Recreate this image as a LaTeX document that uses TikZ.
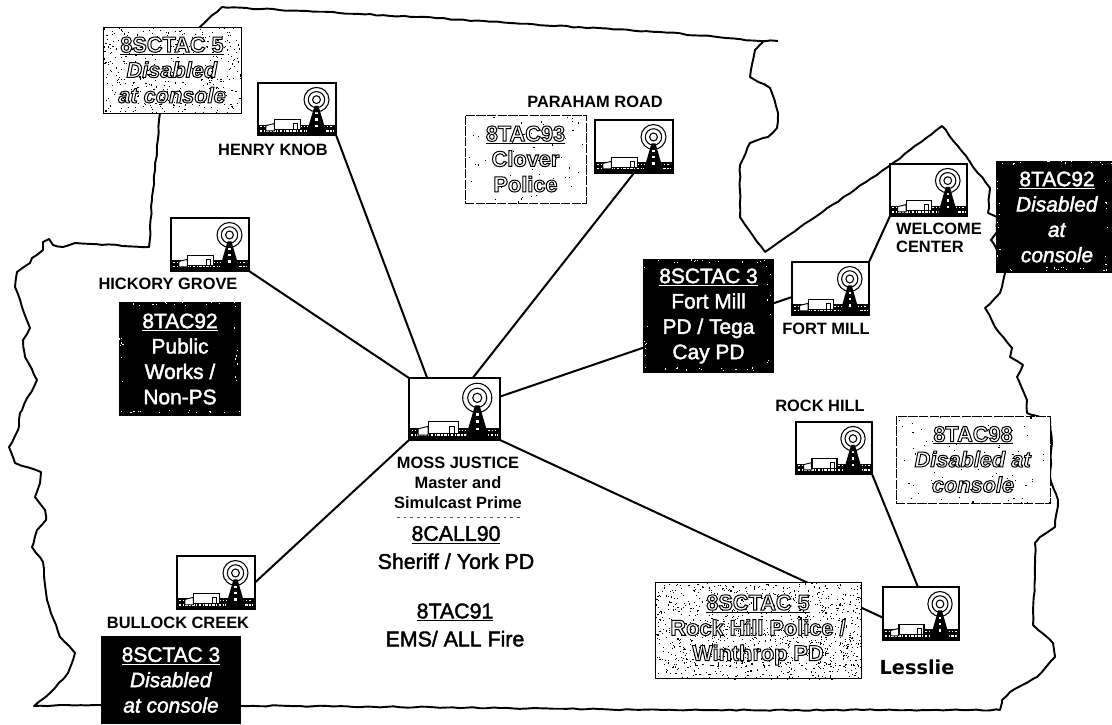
\documentclass[tikz,border=0pt]{standalone}
\usepackage{fontspec}
\setmainfont{Liberation Sans}
\newfontfamily\lesfont{DejaVu Sans}
\usetikzlibrary{calc,decorations.pathmorphing}
\newcommand\outl[1]{{\color{white}\special{pdf:code 0 G 2 Tr 0.75 w}#1\special{pdf:code 0 Tr}}}
\newcommand\heavy[1]{\special{pdf:code 2 Tr 0.3 w}#1\special{pdf:code 0 Tr}}
\newcommand\speckle[6]{% colour,x0,y0,x1,y1,n
  \foreach \ii in {1,...,#6}{%
    \pgfmathsetmacro\sx{#2+rnd*(#4-#2)}%
    \pgfmathsetmacro\sy{#3+rnd*(#5-#3)}%
    \fill[#1] (\sx,\sy) rectangle ++(1.1,1.1);}}
\newcommand\edgespeck[4]{% x0,y0,x1,y1 of a black box
  \speckle{white}{#1}{#2}{#3}{#2+3}{14}
  \speckle{white}{#1}{#4-3}{#3}{#4}{14}
  \speckle{white}{#1}{#2}{#1+4}{#4}{8}
  \speckle{white}{#3-4}{#2}{#3}{#4}{8}}
\newcommand\iconart[5]{% name, x0,y0, w,h
  \node[iconbox,sz={#4}{#5}] (#1) at (#2+#4/2,#3+#5/2) {};
  \begin{scope}[shift={(#2,#3)},xscale=#4,yscale=#5]
    \fill[black] (0.01,0.80) rectangle (0.99,0.98);
    \draw[white,line width=1.1pt,dash pattern=on 2pt off 1pt on 1pt off 1pt] (0.02,0.92) -- (0.98,0.92);
    \draw[white,line width=0.7pt,dash pattern=on 1pt off 1.5pt] (0.03,0.84) -- (0.97,0.84);
    \draw[black,fill=white,line width=0.7pt] (0.10,0.92) -- (0.10,0.82) -- (0.21,0.78) -- (0.21,0.92) -- cycle;
    \draw[black,fill=white,line width=0.9pt] (0.21,0.70) rectangle (0.54,0.90);
    \draw[black,fill=white,line width=0.7pt] (0.45,0.78) rectangle (0.50,0.90);
    \fill[black] (0.62,0.97) -- (0.725,0.44) -- (0.775,0.44) -- (0.88,0.97) -- cycle;
    \foreach \yy in {0.56,0.68,0.80}{\fill[white] (0.735,\yy) rectangle (0.765,\yy+0.045);}
    \draw[black,line width=0.8pt] (0.75,0.32) ellipse [x radius=0.16,y radius=0.235];
    \draw[black,line width=0.8pt] (0.75,0.32) ellipse [x radius=0.105,y radius=0.155];
    \draw[black,line width=0.8pt] (0.75,0.32) ellipse [x radius=0.05,y radius=0.075];
  \end{scope}}
\tikzset{
  x=0.75pt,y=-0.75pt,
  sz/.style 2 args={minimum width=#1*0.75pt,minimum height=#2*0.75pt},
  border/.style={line width=1.45pt,line join=round,decorate,decoration={random steps,segment length=5pt,amplitude=0.5pt}},
  link/.style={line width=1.5pt},
  iconbox/.style={draw=black,fill=white,line width=1.05pt,inner sep=0pt,outer sep=0pt},
  lab/.style={inner sep=0pt,font=\bfseries\fontsize{12.3}{14}\selectfont,text=black},
  blackbox/.style={fill=black,text=white,inner sep=0pt,outer sep=0pt,align=center,font=\fontsize{15.7}{19}\selectfont},
  speckbox/.style={draw=black,line width=0.7pt,inner sep=0pt,outer sep=0pt,align=center,font=\bfseries\fontsize{16.3}{19}\selectfont},
  plain/.style={inner sep=0pt,align=center,font=\fontsize{16}{19}\selectfont,text=black},
}
\begin{document}
\begin{tikzpicture}
\useasboundingbox (0,0) rectangle (1112,724);
\pgfmathsetseed{4711}
% county outline
\draw[border] (778,41) -- (760,41) -- (660,32) -- (510,23) -- (417,17) -- (360,14) -- (222,7) -- (200,27) -- (160,113) -- (157,150) -- (152,200) -- (149,247)
 -- (75,243) -- (63,247) -- (53,245) -- (49,239) -- (43,242) -- (43,250) -- (32,258) -- (30,263) -- (17,272) -- (15,287) -- (22,307) -- (30,328) -- (23,340) -- (25,357) -- (37,380) -- (20,413) -- (18,430) -- (9,447) -- (15,463) -- (41,472) -- (40,483) -- (35,497) -- (45,510) -- (46,520) -- (37,530) -- (32,547) -- (43,562) -- (47,600) -- (60,637) -- (75,653) -- (68,673) -- (50,693) -- (34,706)
 -- (100,705) -- (300,706) -- (500,708) -- (663,710) -- (1000,710) -- (1002,700) -- (1010,692) -- (1037,677) -- (1055,657) -- (1053,643) -- (1033,625) -- (1035,577) -- (1035,543) -- (1040,537) -- (1055,527) -- (1058,500) -- (1050,477) -- (1052,443) -- (1050,420) -- (1027,413) -- (1027,400) -- (1017,377) -- (1023,365) -- (1010,357) -- (1012,348) -- (995,327) -- (985,308) -- (1000,293) -- (1005,273)
 -- (997,250) -- (991,240) -- (997,232) -- (997,217) -- (988,213) -- (990,188) -- (942,126) -- (893,163) -- (765,252) -- (740,217) -- (740,165) -- (750,143) -- (768,137) -- (777,128) -- (778,113) -- (770,88) -- (750,77) -- (755,50) -- (763,42);
% radio sites
\iconart{henry}{258}{83}{78}{52}
\iconart{paraham}{595}{120}{78}{53}
\iconart{hickory}{171}{218}{78}{53}
\iconart{moss}{409}{378}{91}{62}
\iconart{bullock}{177}{556}{78}{53}
\iconart{fortmill}{792}{262}{77}{53}
\iconart{welcome}{890}{164}{77}{52}
\iconart{rockhill}{796}{422}{76}{52}
\iconart{lessie}{883}{587}{76}{53}
% connectors
\draw[link] (henry.south east) -- ($(moss.north west)!0.2!(moss.north east)$);
\draw[link] (paraham.south) -- ($(moss.north west)!0.7!(moss.north east)$);
\draw[link] (hickory.south east) -- (moss.north west);
\draw[link] (bullock.east) -- (moss.south west);
\draw[link] ($(moss.north east)!0.3!(moss.south east)$) -- ($(fortmill.north west)!0.66!(fortmill.south west)$);
\draw[link] (moss.south east) -- ($(lessie.north west)!0.58!(lessie.south west)$);
\draw[link] (fortmill.north east) -- (welcome.south west);
\draw[link] (rockhill.south east) -- ($(lessie.north west)!0.46!(lessie.north east)$);
% black boxes
\node[blackbox,sz={122}{114}] (works) at (180,359) {\underline{\heavy{8TAC92}}\\\heavy{Public}\\\heavy{Works /}\\\heavy{Non-PS}};
\edgespeck{119}{302}{241}{416}
\node[blackbox,sz={140}{88}] (bullockbox) at (171,680) {\underline{\heavy{8SCTAC 3}}\\\heavy{\textit{Disabled}}\\\heavy{\textit{at console}}};
\node[blackbox,sz={131}{114}] (fortbox) at (708.5,316) {\underline{\heavy{8SCTAC 3}}\\\heavy{Fort Mill}\\\heavy{PD / Tega}\\\heavy{Cay PD}};
\edgespeck{643}{259}{774}{373}
\node[blackbox,sz={122}{112}] (welcomebox) at (1057,217) {\underline{\heavy{8TAC92}}\\\heavy{\textit{Disabled}}\\\heavy{\textit{at}}\\\heavy{\textit{console}}};
\edgespeck{996}{161}{1112}{273}
% speckled boxes
\fill[white] (103,27) rectangle (241,113);
\speckle{black}{103}{27}{241}{113}{420}
\node[speckbox,sz={138}{86}] (topbox) at (172,70) {\underline{\outl{8SCTAC 5}}\\\outl{\textit{Disabled}}\\\outl{\textit{at console}}};
\fill[white] (465,115) rectangle (586,203);
\speckle{black}{465}{115}{586}{203}{50}
\node[speckbox,sz={121}{88},dash pattern=on 7pt off 1pt] (cloverbox) at (525.5,159) {\underline{\outl{8TAC93}}\\\outl{Clover}\\\outl{Police}};
\fill[white] (896,416) rectangle (1050,503);
\speckle{black}{896}{416}{1050}{503}{70}
\node[speckbox,sz={154}{87},dash pattern=on 7pt off 1pt] (rockbox) at (973,459.5) {\underline{\outl{8TAC98}}\\\outl{\textit{Disabled at}}\\\outl{\textit{console}}};
\fill[white] (655,583) rectangle (861,679);
\speckle{black}{655}{583}{861}{679}{1100}
\node[speckbox,sz={206}{96}] (winbox) at (758,630) {\underline{\outl{8SCTAC 5}}\\\outl{Rock Hill Police /}\\\outl{Winthrop PD}};
% site labels
\node[lab] (henrylab) at (273,150) {HENRY KNOB};
\node[lab] (parahamlab) at (595,102) {PARAHAM ROAD};
\node[lab] (hickorylab) at (168,284) {HICKORY GROVE};
\node[lab] (bullocklab) at (178,623) {BULLOCK CREEK};
\node[lab,align=left] (welcomelab) at (939,238) {WELCOME\\CENTER};
\node[lab] (fortlab) at (826,329) {FORT MILL};
\node[lab] (rocklab) at (820,406) {ROCK HILL};
\node[inner sep=0pt,font=\lesfont\bfseries\fontsize{14.5}{17}\selectfont] (leslab) at (917,667) {Lesslie};
\node[lab,align=center,font=\bfseries\fontsize{12.3}{15}\selectfont] (mosslab) at (458,483) {MOSS JUSTICE\\Master and\\Simulcast Prime};
\draw[black!70,line width=0.6pt,dash pattern=on 2pt off 3pt] (397,517) -- (520,517);
\node[plain] (call) at (456,547.5) {\underline{\heavy{8CALL90}}\\[2pt]\heavy{Sheriff / York PD}};
\node[plain] (ems) at (455,625) {\underline{\heavy{8TAC91}}\\[2pt]\heavy{EMS/ ALL Fire}};
\end{tikzpicture}
\end{document}
